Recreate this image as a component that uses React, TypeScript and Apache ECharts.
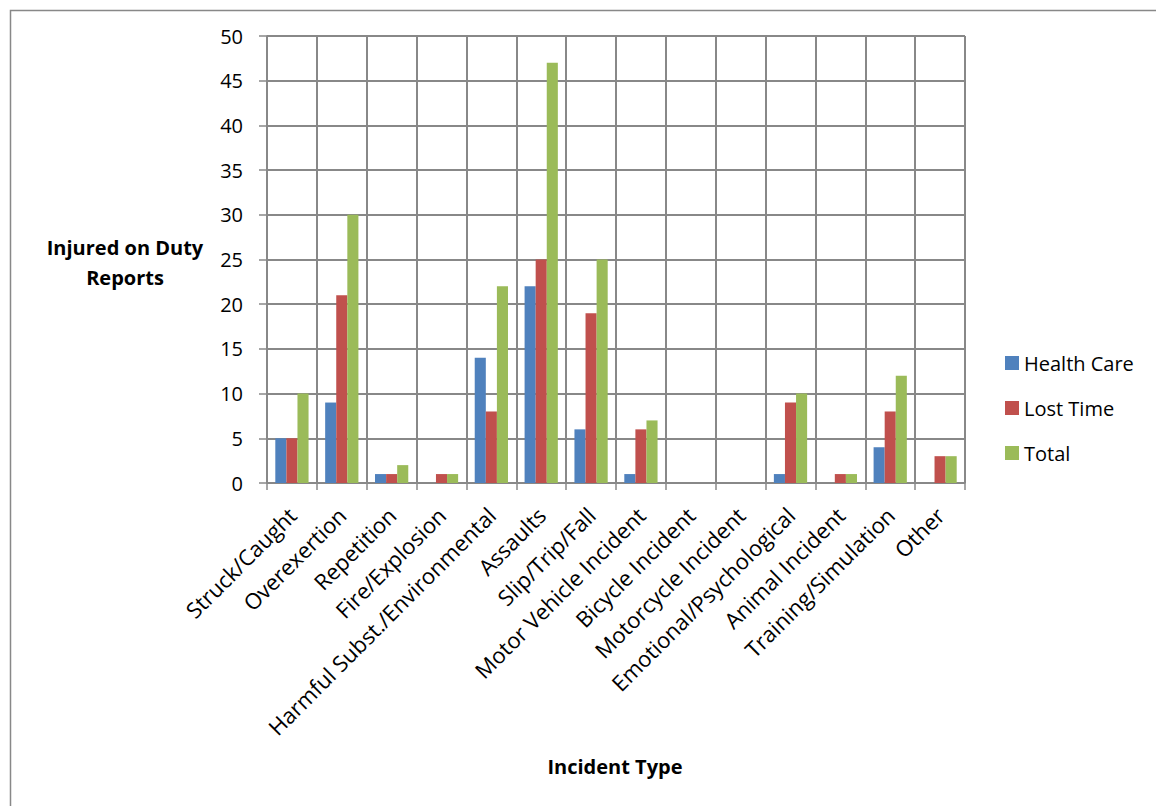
import React, { useEffect, useRef } from "react";
import * as echarts from "echarts";

const categories = [
  "Struck/Caught",
  "Overexertion",
  "Repetition",
  "Fire/Explosion",
  "Harmful Subst./Environmental",
  "Assaults",
  "Slip/Trip/Fall",
  "Motor Vehicle Incident",
  "Bicycle Incident",
  "Motorcycle Incident",
  "Emotional/Psychological",
  "Animal Incident",
  "Training/Simulation",
  "Other",
];
const healthCare = [5, 9, 1, 0, 14, 22, 6, 1, 0, 0, 1, 0, 4, 0];
const lostTime = [5, 21, 1, 1, 8, 25, 19, 6, 0, 0, 9, 1, 8, 3];
const total = [10, 30, 2, 1, 22, 47, 25, 7, 0, 0, 10, 1, 12, 3];
const seriesNames = ["Health Care", "Lost Time", "Total"];
const colors = ["#4F81BD", "#C0504D", "#9BBB59"];

const FONT = "'Open Sans', Lato, sans-serif";

export default function App() {
  const ref = useRef<HTMLDivElement>(null);
  useEffect(() => {
    if (!ref.current) return;
    const chart = echarts.init(ref.current, undefined, { renderer: "svg" });
    const data = [healthCare, lostTime, total];
    chart.setOption({
      animation: false,
      backgroundColor: "#ffffff",
      textStyle: { fontFamily: FONT },
      graphic: [
        {
          type: "rect",
          left: 0,
          top: 0,
          shape: { x: 0.5, y: 0.5, width: 1300, height: 1300 },
          style: { fill: "none", stroke: "#888888", lineWidth: 1.5 },
          silent: true,
          z: 0,
        },
        {
          type: "text",
          x: 117,
          y: 254,
          style: {
            text: "Injured on Duty\nReports",
            font: `bold 20px ${FONT}`,
            fill: "#000",
            textAlign: "center",
            textVerticalAlign: "middle",
            lineHeight: 30,
          },
        },
        {
          type: "text",
          x: 607,
          y: 758,
          style: {
            text: "Incident Type",
            font: `bold 20px ${FONT}`,
            fill: "#000",
            textAlign: "center",
            textVerticalAlign: "middle",
          },
        },
      ],
      legend: {
        orient: "vertical",
        left: 992,
        top: 340,
        itemWidth: 14,
        itemHeight: 14,
        itemGap: 25,
        icon: "rect",
        textStyle: { fontSize: 20, color: "#000", fontFamily: FONT },
        data: seriesNames,
      },
      grid: { left: 259, top: 28, width: 698, height: 447, containLabel: false },
      xAxis: {
        type: "category",
        data: categories,
        axisLine: { show: true, lineStyle: { color: "#888888", width: 1.5 } },
        axisTick: { show: true, alignWithLabel: false, length: 7, lineStyle: { color: "#888888", width: 1.5 } },
        splitLine: { show: true, lineStyle: { color: "#888888", width: 2 } },
        axisLabel: {
          rotate: 45,
          interval: 0,
          margin: 28,
          fontSize: 22,
          color: "#000",
          fontFamily: FONT,
        },
      },
      yAxis: {
        type: "value",
        min: 0,
        max: 50,
        interval: 5,
        axisLine: { show: true, lineStyle: { color: "#888888", width: 1.5 } },
        axisTick: { show: true, length: 8, lineStyle: { color: "#888888", width: 1.5 } },
        splitLine: { show: true, lineStyle: { color: "#888888", width: 2 } },
        axisLabel: { fontSize: 20, color: "#000", margin: 24, fontFamily: FONT },
      },
      series: seriesNames.map((name, i) => ({
        name,
        type: "bar",
        data: data[i],
        barGap: "0%",
        barCategoryGap: "33.3%",
        itemStyle: { color: colors[i] },
      })),
    });
    return () => chart.dispose();
  }, []);
  return <div ref={ref} style={{ width: 1156, height: 798 }} />;
}
